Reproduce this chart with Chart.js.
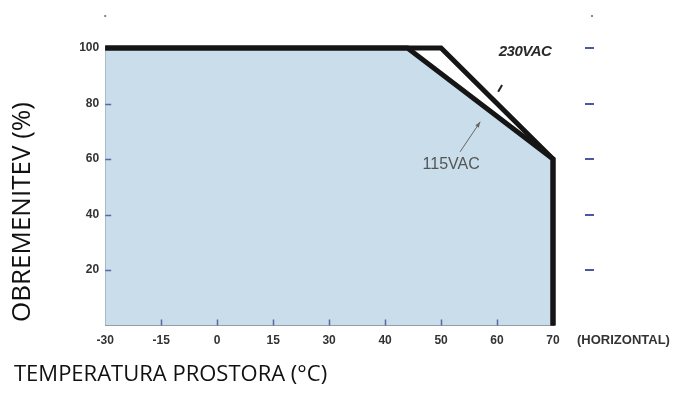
<!DOCTYPE html>
<html>
<head>
<meta charset="utf-8">
<script src="https://cdn.jsdelivr.net/npm/chart.js@4.4.1/dist/chart.umd.min.js"></script>
<style>
  html, body { margin: 0; padding: 0; background: #fff; }
  #wrap { width: 675px; height: 401px; position: relative; }
</style>
</head>
<body>
<div id="wrap"><canvas id="derating"></canvas></div>
<script>
const deratingChart = document.getElementById('derating');

// tick labels (the x axis is not linear in temperature: every label gets the same space)
const xTicks = [-30, -15, 0, 15, 30, 40, 50, 60, 70];
const yTicks = [20, 40, 60, 80, 100];

// derating curves: ambient temperature (°C) -> load (%)
const temp230 = [-30, 50, 70, 70];
const load230 = [100, 100, 60, 0];
const temp115 = [-30, 44, 70, 70];
const load115 = [100, 100, 60, 0];

// temperature -> position along the evenly spaced tick labels
function pos(t) {
    for (let i = 0; i < xTicks.length - 1; i++) {
        if (t <= xTicks[i + 1]) {
            return i + (t - xTicks[i]) / (xTicks[i + 1] - xTicks[i]);
        }
    }
    return xTicks.length - 1;
}

const toPoints = (temps, loads) => temps.map((t, i) => ({x: pos(t), y: loads[i]}));

const boldTick = {family: 'Liberation Sans', size: 12, weight: 'bold'};

const extras = {
    id: 'extras',
    afterDatasetsDraw(chart) {
        const {ctx, chartArea} = chart;
        const xs = chart.scales.x;
        const ys = chart.scales.y;
        ctx.save();

        // inner tick marks
        ctx.strokeStyle = '#5a68a8';
        ctx.lineWidth = 1.5;
        ctx.beginPath();
        for (let i = 1; i < xTicks.length - 1; i++) {
            const px = Math.round(xs.getPixelForValue(i)) + 0.5;
            ctx.moveTo(px, chartArea.bottom - 6);
            ctx.lineTo(px, chartArea.bottom);
        }
        for (const v of yTicks.slice(0, -1)) {
            const py = Math.round(ys.getPixelForValue(v)) + 0.5;
            ctx.moveTo(chartArea.left, py);
            ctx.lineTo(chartArea.left + 6, py);
        }
        ctx.stroke();

        // dashes on the right
        ctx.strokeStyle = '#4a58a0';
        ctx.lineWidth = 2;
        ctx.beginPath();
        for (const v of yTicks) {
            const py = Math.round(ys.getPixelForValue(v));
            ctx.moveTo(chartArea.right + 32, py);
            ctx.lineTo(chartArea.right + 41, py);
        }
        ctx.stroke();

        // small marks above the plot
        ctx.fillStyle = '#888';
        ctx.fillRect(chartArea.left - 1, chartArea.top - 33, 2, 2);
        ctx.fillRect(chartArea.right + 38, chartArea.top - 33, 2, 2);

        // (HORIZONTAL) after the last x label
        ctx.fillStyle = '#333';
        ctx.font = 'bold 13px "Liberation Sans"';
        ctx.textBaseline = 'middle';
        ctx.textAlign = 'left';
        ctx.fillText('(HORIZONTAL)', chartArea.right + 24, chartArea.bottom + 15);

        // curve labels
        ctx.font = 'italic bold 15px "Liberation Sans"';
        ctx.letterSpacing = '-0.5px';
        ctx.fillStyle = '#2a2a2a';
        ctx.textAlign = 'center';
        ctx.fillText('230VAC', xs.getPixelForValue(pos(65)), ys.getPixelForValue(98.5));
        ctx.letterSpacing = '0px';

        ctx.strokeStyle = '#222';
        ctx.lineWidth = 2;
        ctx.beginPath();
        ctx.moveTo(xs.getPixelForValue(pos(60.2)), ys.getPixelForValue(84.2));
        ctx.lineTo(xs.getPixelForValue(pos(60.9)), ys.getPixelForValue(86.7));
        ctx.stroke();

        ctx.font = '16px "Liberation Sans"';
        ctx.fillStyle = '#555';
        ctx.fillText('115VAC', xs.getPixelForValue(pos(51.8)), ys.getPixelForValue(57.9));

        // arrow to the 115VAC curve
        const ax0 = xs.getPixelForValue(pos(53.4)), ay0 = ys.getPixelForValue(62.6);
        const ax1 = xs.getPixelForValue(pos(57)), ay1 = ys.getPixelForValue(73.4);
        const ang = Math.atan2(ay1 - ay0, ax1 - ax0);
        ctx.strokeStyle = '#666';
        ctx.fillStyle = '#666';
        ctx.lineWidth = 1;
        ctx.beginPath();
        ctx.moveTo(ax0, ay0);
        ctx.lineTo(ax1, ay1);
        ctx.stroke();
        ctx.beginPath();
        ctx.moveTo(ax1, ay1);
        ctx.lineTo(ax1 - 6 * Math.cos(ang - 0.35), ay1 - 6 * Math.sin(ang - 0.35));
        ctx.lineTo(ax1 - 6 * Math.cos(ang + 0.35), ay1 - 6 * Math.sin(ang + 0.35));
        ctx.closePath();
        ctx.fill();

        ctx.restore();
    }
};

const derating_config = {
    type: 'scatter',
    data: {
        datasets: [
            {
                label: '115VAC',
                data: toPoints(temp115, load115),
                showLine: true,
                borderColor: '#151515',
                borderWidth: 5,
                backgroundColor: '#c9ddea',
                fill: 'origin',
                pointRadius: 0,
                borderJoinStyle: 'miter',
                clip: false,
            },
            {
                label: '230VAC',
                data: toPoints(temp230, load230),
                showLine: true,
                borderColor: '#151515',
                borderWidth: 5,
                fill: false,
                pointRadius: 0,
                borderJoinStyle: 'miter',
                clip: false,
            },
        ]
    },
    options: {
        responsive: true,
        maintainAspectRatio: false,
        devicePixelRatio: 1,
        animation: false,
        layout: {
            padding: {left: 14, top: 48, right: 122, bottom: 25}
        },
        scales: {
            x: {
                type: 'linear',
                min: 0,
                max: xTicks.length - 1,
                grid: {display: false, drawTicks: false},
                border: {color: '#8a96a2', width: 1},
                afterFit: (scale) => { scale.height = 28; },
                ticks: {
                    stepSize: 1,
                    padding: 8,
                    color: '#333',
                    font: boldTick,
                    callback: (v) => xTicks[v],
                },
            },
            y: {
                min: 0,
                max: 100,
                grid: {display: false, drawTicks: false},
                border: {color: '#8a96a2', width: 1},
                afterFit: (scale) => { scale.width = 65; },
                ticks: {
                    stepSize: 20,
                    padding: 6,
                    color: '#333',
                    font: boldTick,
                    callback: (v) => (v === 0 ? '' : v),
                },
            },
        },
        plugins: {
            legend: {display: false},
            tooltip: {enabled: false},
            filler: {drawTime: 'beforeDatasetsDraw'},
            subtitle: {
                display: true,
                position: 'left',
                text: 'OBREMENITEV (%)',
                color: '#111',
                font: {family: 'Open Sans', size: 26, weight: 'normal', lineHeight: 1.2},
                padding: {top: -7, bottom: 2},
            },
            title: {
                display: true,
                position: 'bottom',
                align: 'start',
                text: 'TEMPERATURA PROSTORA (°C)',
                color: '#111',
                font: {family: 'Open Sans', size: 22, weight: 'normal', lineHeight: 1.2},
                padding: {top: 8, bottom: -12},
            },
        }
    },
    plugins: [extras],
};

new Chart(deratingChart, derating_config);
</script>
</body>
</html>
